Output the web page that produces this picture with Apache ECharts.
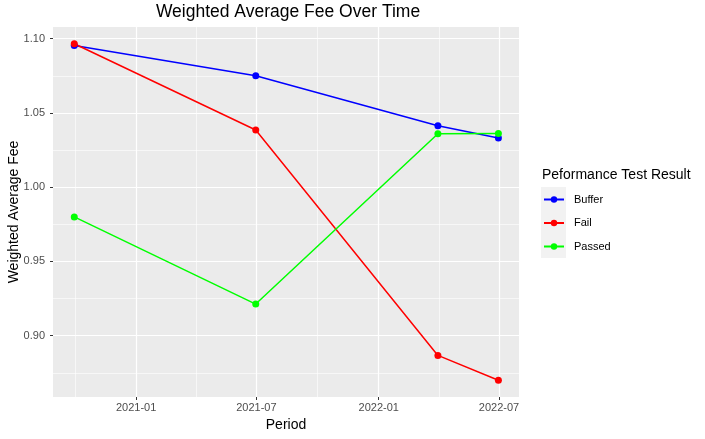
<!DOCTYPE html>
<html>
<head>
<meta charset="utf-8">
<script src="https://cdn.jsdelivr.net/npm/echarts@6/dist/echarts.min.js"></script>
<style>
    html, body {margin: 0; padding: 0; background: #fff;}
    #fee_chart {width: 705px; height: 439px;}
</style>
</head>
<body>
<div id="fee_chart"></div>
<script>
// data
const periods = ['2020-09-30', '2021-06-30', '2022-03-31', '2022-06-30'];
const buffer = [1.0955, 1.0750, 1.0414, 1.0331];
const fail = [1.0966, 1.0385, 0.8867, 0.8700];
const passed = [0.9800, 0.9213, 1.0360, 1.0362];

const xTicks = ['2021-01-01', '2021-07-01', '2022-01-01', '2022-07-01'];
const xMinor = ['2020-10-01 12:00', '2021-04-01 12:00', '2021-10-01', '2022-04-01 12:00'];
const yTicks = [0.90, 0.95, 1.00, 1.05, 1.10];
const yMinor = [0.875, 0.925, 0.975, 1.025, 1.075];

const xMin = '2020-08-29';
const xMax = '2022-07-31';
const yMin = 0.8587;
const yMax = 1.1079;

const font = '"Liberation Sans", Arial, sans-serif';

// dates as plain numbers (ms) on a value axis
let ts = (s) => new Date(s.replace(' ', 'T') + (s.length > 10 ? ':00Z' : 'T00:00:00Z')).getTime();
let ym = (v) => {
    let d = new Date(v);
    return d.getUTCFullYear() + '-' + String(d.getUTCMonth() + 1).padStart(2, '0');
};

let ec = echarts.init(document.getElementById('fee_chart'));

function makeSeries(name, values, color) {
    return {
        name: name,
        type: 'line',
        xAxisIndex: 1,
        yAxisIndex: 1,
        data: periods.map((p, i) => [ts(p), values[i]]),
        symbol: 'circle',
        symbolSize: 7,
        lineStyle: {color: color, width: 1.5},
        itemStyle: {color: color},
        animation: false
    };
}

let minorGrid = {show: true, lineStyle: {color: '#ffffff', width: 0.6}};
let majorGrid = {show: true, lineStyle: {color: '#ffffff', width: 1.2}};

var option = {
    textStyle: {fontFamily: font},
    title: [{
        text: 'Weighted Average Fee Over Time',
        left: 288,
        top: 3,
        padding: 0,
        textAlign: 'center',
        textStyle: {fontSize: 17.5, fontWeight: 'normal', color: '#000', fontFamily: font}
    }, {
        text: 'Peformance Test Result',
        left: 542,
        top: 168,
        padding: 0,
        textStyle: {fontSize: 14, fontWeight: 'normal', color: '#000', fontFamily: font}
    }],
    graphic: [{
        type: 'rect',
        shape: {x: 541, y: 187, width: 25, height: 71},
        style: {fill: '#f2f2f2'},
        z: -1
    }],
    legend: {
        orient: 'vertical',
        left: 543,
        top: 194,
        padding: 0,
        itemWidth: 20,
        itemHeight: 8,
        itemGap: 12.5,
        data: ['Buffer', 'Fail', 'Passed'],
        textStyle: {fontSize: 11, color: '#000', fontFamily: font, padding: [0, 0, 0, 5]}
    },
    grid: {
        left: 53,
        right: 186,
        top: 27,
        bottom: 42,
        outerBoundsMode: 'none',
        show: true,
        backgroundColor: '#ebebeb',
        borderWidth: 0
    },
    xAxis: [{
        // minor grid lines only
        type: 'value',
        position: 'bottom',
        min: ts(xMin),
        max: ts(xMax),
        axisLine: {show: false},
        axisTick: {show: false, customValues: xMinor.map(ts)},
        axisLabel: {show: false, customValues: xMinor.map(ts)},
        splitLine: minorGrid
    }, {
        type: 'value',
        position: 'bottom',
        min: ts(xMin),
        max: ts(xMax),
        name: 'Period',
        nameLocation: 'middle',
        nameGap: 20,
        nameTextStyle: {fontSize: 14, color: '#000', fontFamily: font},
        axisLine: {show: false},
        axisTick: {show: true, length: 3, customValues: xTicks.map(ts), lineStyle: {color: '#333'}},
        axisLabel: {
            customValues: xTicks.map(ts),
            fontSize: 11,
            color: '#4d4d4d',
            margin: 5,
            formatter: ym
        },
        splitLine: majorGrid
    }],
    yAxis: [{
        type: 'value',
        position: 'left',
        min: yMin,
        max: yMax,
        axisLine: {show: false},
        axisTick: {show: false, customValues: yMinor},
        axisLabel: {show: false, customValues: yMinor},
        splitLine: minorGrid
    }, {
        type: 'value',
        position: 'left',
        min: yMin,
        max: yMax,
        name: 'Weighted Average Fee',
        nameLocation: 'middle',
        nameGap: 32,
        nameMoveOverlap: false,
        nameTextStyle: {fontSize: 14, color: '#000', fontFamily: font},
        axisLine: {show: false},
        axisTick: {show: true, length: 3, customValues: yTicks, lineStyle: {color: '#333'}},
        axisLabel: {
            customValues: yTicks,
            fontSize: 11,
            color: '#4d4d4d',
            margin: 8,
            formatter: (v) => v.toFixed(2)
        },
        splitLine: majorGrid
    }],
    series: [
        makeSeries('Buffer', buffer, '#0000ff'),
        makeSeries('Fail', fail, '#ff0000'),
        makeSeries('Passed', passed, '#00ff00')
    ]
};

ec.setOption(option);
</script>
</body>
</html>
